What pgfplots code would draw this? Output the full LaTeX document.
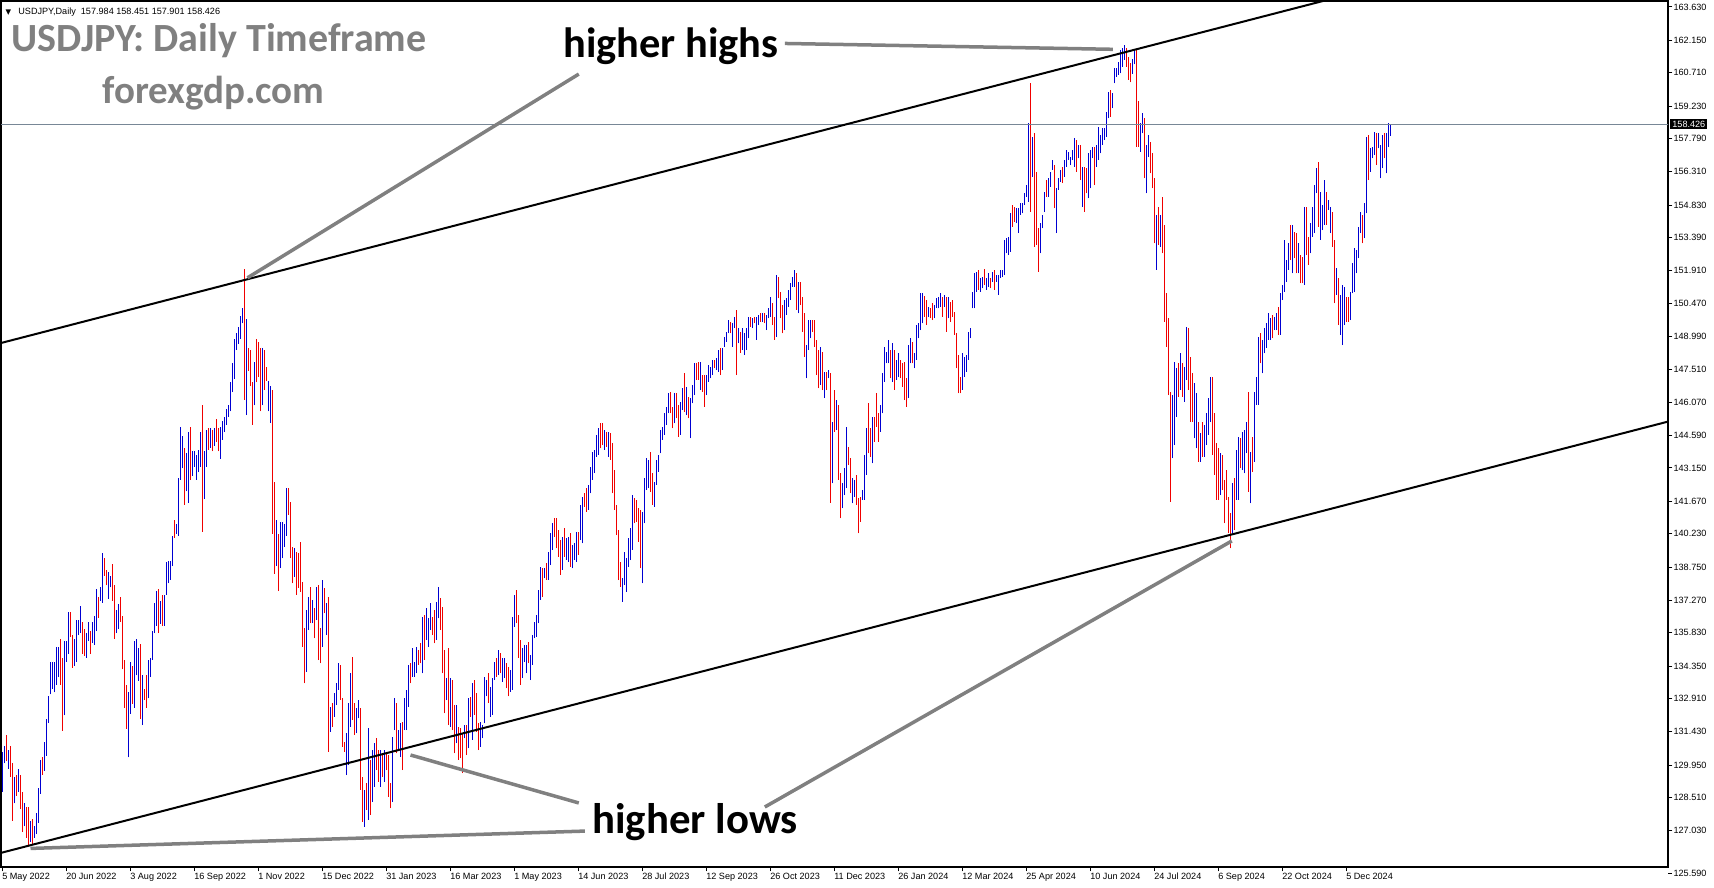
\documentclass[border=0pt]{standalone}
\usepackage{pgfplots}
\pgfplotsset{compat=1.18}
\usepackage{pgfplotstable}
\usepackage{fontspec}
\setmainfont{Liberation Sans}
\newfontfamily\calfont{Carlito}
\newfontfamily\djv{DejaVu Sans}
\definecolor{barup}{RGB}{0,0,210}
\definecolor{bardn}{RGB}{240,0,0}
\definecolor{annot}{RGB}{128,128,128}
\definecolor{pline}{RGB}{120,135,150}

\pgfplotstableread{
i h l d
0 130.54 128.76 1
1 130.80 130.03 1
2 131.31 130.12 0
3 130.63 129.78 1
4 130.80 129.44 0
5 130.03 127.48 0
6 129.44 128.25 1
7 129.52 128.59 0
8 129.78 128.76 1
9 129.52 127.99 0
10 128.76 126.97 0
11 128.25 127.23 1
12 128.08 126.72 0
13 128.08 126.38 0
14 127.48 126.55 1
15 127.57 126.46 0
16 127.23 126.72 1
17 127.82 126.89 1
18 128.93 127.40 1
19 130.20 128.67 1
20 130.29 129.52 0
21 130.97 129.69 1
22 131.99 130.37 1
23 133.01 131.82 1
24 134.54 133.09 1
25 134.54 133.35 1
26 134.54 133.18 1
27 135.22 133.52 1
28 135.22 133.86 1
29 135.56 133.52 0
30 134.71 131.48 0
31 135.47 132.16 1
32 135.47 134.54 1
33 136.75 134.88 1
34 136.75 135.64 0
35 135.73 134.28 0
36 135.56 134.37 1
37 136.41 134.54 1
38 136.41 135.73 1
39 137.00 135.81 1
40 136.32 134.88 0
41 135.98 134.80 0
42 135.81 134.71 1
43 136.32 135.47 1
44 135.90 134.88 0
45 136.32 135.39 1
46 136.58 135.30 1
47 137.77 135.90 1
48 137.43 136.49 0
49 137.85 137.26 1
50 139.38 137.17 1
51 139.13 138.36 0
52 138.62 137.94 0
53 138.53 137.34 1
54 138.36 137.85 1
55 138.87 137.26 0
56 137.94 135.56 0
57 136.83 135.81 1
58 137.09 135.98 1
59 137.43 136.32 0
60 136.58 134.20 0
61 134.62 132.50 0
62 133.52 131.57 0
63 133.18 130.29 1
64 134.54 132.24 1
65 134.37 132.67 0
66 135.47 132.50 1
67 135.56 133.94 1
68 135.14 133.69 1
69 135.31 131.99 0
70 133.94 131.73 1
71 133.35 132.84 0
72 133.94 132.50 0
73 134.62 132.92 1
74 134.71 133.86 1
75 135.90 134.62 1
76 137.17 135.81 1
77 137.68 136.15 1
78 137.77 135.81 0
79 137.26 136.24 1
80 137.51 136.15 0
81 137.51 136.15 1
82 138.96 137.51 1
83 139.04 138.02 1
84 139.04 138.19 1
85 140.15 138.79 1
86 140.83 140.06 0
87 140.66 140.23 1
88 142.70 140.15 1
89 144.99 142.62 1
90 144.57 143.13 1
91 144.06 141.51 0
92 143.80 142.11 1
93 144.74 141.60 1
94 144.99 142.62 0
95 143.89 142.79 1
96 143.89 143.21 1
97 143.72 142.62 1
98 143.97 142.96 1
99 144.74 143.21 1
100 145.93 140.32 0
101 143.89 141.77 1
102 144.82 143.21 1
103 144.91 143.97 0
104 144.91 144.06 1
105 144.82 143.89 0
106 144.91 144.14 1
107 145.33 144.31 0
108 144.91 143.89 0
109 144.99 143.55 1
110 145.25 144.40 1
111 145.42 144.74 1
112 145.76 145.08 1
113 145.93 145.42 1
114 146.95 145.67 1
115 147.80 146.52 1
116 148.90 147.12 1
117 149.16 148.39 1
118 149.42 148.65 1
119 149.92 148.90 1
120 150.27 149.58 1
121 151.97 146.18 0
122 149.75 145.50 1
123 148.48 147.46 0
124 148.39 146.78 0
125 146.95 145.08 0
126 147.88 145.93 1
127 148.90 146.95 0
128 148.73 147.20 0
129 148.48 145.67 0
130 148.48 145.93 1
131 148.39 146.61 0
132 147.63 147.03 0
133 147.03 145.67 1
134 146.78 145.16 1
135 146.61 140.23 0
136 142.53 138.45 0
137 140.83 138.79 1
138 140.23 137.68 0
139 140.74 138.70 1
140 140.74 139.13 1
141 140.66 139.64 1
142 142.27 140.15 1
143 142.27 141.08 0
144 141.65 139.14 0
145 139.66 138.03 0
146 139.58 138.32 1
147 139.43 137.51 0
148 139.36 137.81 0
149 139.88 137.66 0
150 138.10 135.21 0
151 136.03 133.58 0
152 136.84 134.10 1
153 137.43 135.95 1
154 137.88 136.25 0
155 137.29 136.25 1
156 136.92 135.58 0
157 137.88 136.40 1
158 137.95 134.62 0
159 136.03 134.47 0
160 138.18 135.21 1
161 137.81 136.69 0
162 137.14 135.73 1
163 137.43 130.55 0
164 132.55 131.44 1
165 132.70 131.66 0
166 133.14 132.10 1
167 133.59 132.62 1
168 134.47 133.29 1
169 134.40 132.84 0
170 132.92 130.77 0
171 130.99 130.55 0
172 131.36 129.51 1
173 132.70 129.96 1
174 134.03 131.66 1
175 134.77 131.96 0
176 132.70 131.29 0
177 132.47 131.36 1
178 132.84 132.03 1
179 132.47 128.85 0
180 129.44 127.44 0
181 128.85 127.22 1
182 129.14 127.96 0
183 131.59 127.51 1
184 130.18 127.74 0
185 130.62 128.33 1
186 130.92 129.00 1
187 131.14 129.73 0
188 130.62 129.22 0
189 130.62 129.00 1
190 130.47 129.44 0
191 130.62 129.22 1
192 130.55 129.73 0
193 130.40 128.55 0
194 129.14 128.03 0
195 131.22 128.33 1
196 132.92 131.51 1
197 132.70 130.47 0
198 131.51 130.62 1
199 131.81 130.33 1
200 131.88 129.73 0
201 132.92 131.51 1
202 133.29 131.51 1
203 134.40 132.55 1
204 134.47 133.58 0
205 135.14 133.88 1
206 134.55 133.88 1
207 135.21 134.03 1
208 135.07 134.40 0
209 135.36 134.47 0
210 136.55 134.03 1
211 136.62 134.62 0
212 136.92 135.51 1
213 136.47 135.21 1
214 137.14 135.95 1
215 136.55 135.73 0
216 136.84 135.36 0
217 137.21 135.51 1
218 137.88 136.47 1
219 137.36 135.95 0
220 136.99 134.03 0
221 135.07 132.25 0
222 133.81 132.84 1
223 135.14 131.73 0
224 133.81 131.66 1
225 133.73 131.51 0
226 132.62 130.47 0
227 132.62 130.92 1
228 131.66 130.18 0
229 131.59 130.25 0
230 131.36 129.59 0
231 131.73 131.14 1
232 131.73 130.40 0
233 132.92 130.70 1
234 132.99 132.10 0
235 133.58 131.07 1
236 133.73 132.18 0
237 133.14 131.44 0
238 131.81 130.62 0
239 131.88 130.77 1
240 131.73 131.14 1
241 133.88 131.81 1
242 133.73 133.00 1
243 134.03 132.70 0
244 133.44 132.10 1
245 133.81 132.18 1
246 134.55 133.73 1
247 134.70 133.88 0
248 135.07 133.95 1
249 134.92 134.03 0
250 134.70 133.66 1
251 134.70 133.81 1
252 134.47 133.36 0
253 134.33 133.00 0
254 134.18 133.22 1
255 136.55 133.29 1
256 137.51 136.10 1
257 137.73 136.25 0
258 136.62 134.70 0
259 135.51 133.51 0
260 135.14 133.81 1
261 135.29 134.55 1
262 135.29 134.03 1
263 135.44 134.47 0
264 134.84 133.73 1
265 135.73 134.40 1
266 136.32 135.58 1
267 136.62 135.66 1
268 137.73 136.25 1
269 138.77 137.29 1
270 138.70 137.43 0
271 138.70 138.25 1
272 138.92 138.18 0
273 139.43 138.18 1
274 140.25 138.84 1
275 140.69 139.51 1
276 140.91 140.10 0
277 140.91 139.58 0
278 140.40 139.21 0
279 139.95 138.40 0
280 140.10 138.62 1
281 140.47 139.21 0
282 140.03 139.06 1
283 140.10 138.99 1
284 140.25 138.77 0
285 139.73 138.69 1
286 139.80 139.06 1
287 140.32 138.99 1
288 140.32 139.29 0
289 141.51 139.95 1
290 141.88 139.80 1
291 142.02 141.43 0
292 142.25 141.21 0
293 142.40 141.29 1
294 143.21 142.02 1
295 143.87 142.62 1
296 143.95 142.92 1
297 144.62 143.65 1
298 144.91 143.73 1
299 145.13 144.02 0
300 145.13 144.17 0
301 144.84 143.95 1
302 144.76 144.10 0
303 144.76 143.65 1
304 144.69 143.51 0
305 144.25 142.02 0
306 143.06 141.29 0
307 141.51 140.17 0
308 140.40 138.17 0
309 138.99 137.88 0
310 138.25 137.21 1
311 139.43 137.95 1
312 139.14 137.66 1
313 140.03 138.77 1
314 140.47 139.06 1
315 141.95 139.51 1
316 141.80 140.69 0
317 141.73 140.77 0
318 141.36 139.88 0
319 141.29 138.69 0
320 141.21 138.03 1
321 142.69 140.69 1
322 143.58 142.17 1
323 143.50 142.25 1
324 143.87 142.10 0
325 142.91 141.51 0
326 142.54 141.43 1
327 143.50 142.40 1
328 143.73 142.99 1
329 144.84 143.80 1
330 144.99 144.40 1
331 145.58 144.62 1
332 145.88 145.06 1
333 146.47 145.58 1
334 146.54 145.58 0
335 145.88 144.91 0
336 146.47 145.13 1
337 146.47 145.36 0
338 145.95 144.54 0
339 146.10 144.62 1
340 146.69 145.73 1
341 147.36 145.65 0
342 146.76 145.50 1
343 146.32 145.36 0
344 146.25 144.47 1
345 146.84 146.02 1
346 147.80 146.39 1
347 147.80 147.06 0
348 147.87 147.06 0
349 147.87 146.61 1
350 147.28 146.54 0
351 147.28 145.88 0
352 147.28 146.39 1
353 147.73 146.99 1
354 147.65 147.13 1
355 147.95 147.28 1
356 147.95 147.58 0
357 148.02 147.50 1
358 148.39 147.43 1
359 148.47 147.28 0
360 148.47 147.50 1
361 148.99 148.54 1
362 149.21 148.76 1
363 149.73 149.13 1
364 149.65 149.13 0
365 149.58 148.54 1
366 149.87 149.36 1
367 150.17 147.28 0
368 149.36 148.69 1
369 149.21 148.25 0
370 149.36 148.39 1
371 149.13 148.17 1
372 149.36 148.39 1
373 149.87 148.91 1
374 149.87 149.43 0
375 149.80 149.36 1
376 149.87 149.58 0
377 149.87 148.84 1
378 149.95 149.50 1
379 150.02 149.65 0
380 150.02 149.65 1
381 150.02 149.58 0
382 149.95 149.28 1
383 150.24 149.80 1
384 150.76 149.87 1
385 150.47 149.50 0
386 149.87 148.84 0
387 151.72 148.99 1
388 151.65 150.69 0
389 150.98 149.80 0
390 150.39 149.13 0
391 150.61 149.28 1
392 150.69 149.95 1
393 151.06 150.32 1
394 151.35 150.61 1
395 151.65 151.21 1
396 151.95 151.21 1
397 151.80 150.17 0
398 151.43 150.02 1
399 151.43 150.39 0
400 150.76 149.21 0
401 150.02 148.10 0
402 148.61 147.13 1
403 149.73 148.39 1
404 149.73 148.91 1
405 149.73 149.21 0
406 149.73 148.54 0
407 148.84 147.28 0
408 148.39 146.69 0
409 148.54 146.84 1
410 148.32 146.61 0
411 147.43 146.25 1
412 147.43 146.61 0
413 147.50 147.13 1
414 147.36 141.60 0
415 145.21 142.47 1
416 146.61 144.76 0
417 146.17 144.84 1
418 145.95 142.62 0
419 142.91 140.91 0
420 142.47 141.36 1
421 143.13 141.95 1
422 144.99 142.25 1
423 144.10 143.28 0
424 143.58 142.02 0
425 142.69 141.58 1
426 142.62 141.88 1
427 142.84 141.51 0
428 141.80 140.25 0
429 141.88 140.77 0
430 142.17 141.73 1
431 143.73 141.73 1
432 144.91 142.84 1
433 146.02 143.80 0
434 144.91 143.65 0
435 145.43 143.36 1
436 145.43 144.32 0
437 146.47 144.99 0
438 145.58 144.32 0
439 145.95 144.76 1
440 147.36 145.58 1
441 148.54 146.99 1
442 148.32 147.80 1
443 148.84 147.80 1
444 148.39 147.13 0
445 148.69 146.99 1
446 148.39 146.62 0
447 147.95 147.06 1
448 148.24 147.21 1
449 147.95 147.13 0
450 147.80 146.76 0
451 147.87 146.17 0
452 147.13 145.87 0
453 148.61 146.25 1
454 148.91 147.80 1
455 148.76 147.80 0
456 148.24 147.58 1
457 149.50 147.95 1
458 149.58 148.91 1
459 150.91 149.28 1
460 150.91 149.58 1
461 150.81 149.87 0
462 150.61 149.50 0
463 150.32 149.87 1
464 150.24 149.80 0
465 150.46 149.72 0
466 150.39 149.80 1
467 150.69 150.24 1
468 150.76 150.24 1
469 150.91 150.32 1
470 150.76 149.87 0
471 150.84 150.32 1
472 150.76 149.21 0
473 150.76 149.80 1
474 150.54 149.65 0
475 150.61 149.87 0
476 150.09 149.06 0
477 149.13 147.58 0
478 148.17 146.47 0
479 147.21 146.47 0
480 148.24 146.62 1
481 148.09 147.21 1
482 148.17 147.43 1
483 149.21 147.95 1
484 149.35 148.91 1
485 150.98 150.24 1
486 151.80 150.24 1
487 151.87 150.98 1
488 151.95 151.06 0
489 151.58 150.98 1
490 151.65 151.13 1
491 151.98 151.28 0
492 151.58 151.06 1
493 151.80 151.21 1
494 151.58 151.13 0
495 151.87 151.43 1
496 151.95 151.06 0
497 151.72 151.43 1
498 151.72 150.84 1
499 151.95 151.58 1
500 151.95 151.65 1
501 153.28 151.72 1
502 153.35 152.69 1
503 153.43 152.61 1
504 154.46 152.76 1
505 154.83 153.87 0
506 154.76 154.09 0
507 154.68 154.02 1
508 154.68 153.58 1
509 154.91 154.39 1
510 154.91 154.46 1
511 155.35 154.83 1
512 155.72 155.20 1
513 158.46 154.98 1
514 160.24 154.54 0
515 157.87 156.09 1
516 158.02 152.98 0
517 156.31 153.06 0
518 153.80 151.87 0
519 154.02 152.69 1
520 154.39 153.80 1
521 155.43 154.54 1
522 155.94 155.20 0
523 156.02 155.20 1
524 156.31 155.65 1
525 156.83 156.39 1
526 156.61 154.68 0
527 155.57 153.58 1
528 156.02 155.50 1
529 156.39 155.87 1
530 156.54 155.80 0
531 156.83 156.09 1
532 157.28 156.54 1
533 157.20 156.83 1
534 156.98 156.61 1
535 157.28 156.83 1
536 157.79 156.54 1
537 157.72 156.31 0
538 157.50 156.91 1
539 157.50 155.94 0
540 156.54 154.76 1
541 156.54 154.54 0
542 156.46 155.35 0
543 157.13 155.13 1
544 157.28 155.57 1
545 157.42 156.91 1
546 157.42 155.72 0
547 157.50 156.54 1
548 158.31 156.83 1
549 157.94 157.13 1
550 158.24 157.50 1
551 158.24 157.72 1
552 158.98 157.87 1
553 159.87 158.68 1
554 159.94 158.76 0
555 159.79 159.13 1
556 160.91 160.24 1
557 160.91 160.53 1
558 161.20 160.61 1
559 161.72 160.68 1
560 161.79 160.98 1
561 161.94 161.28 1
562 161.79 160.98 0
563 161.42 160.39 0
564 161.16 160.28 0
565 161.31 160.67 1
566 161.76 161.08 1
567 161.76 157.43 0
568 159.45 157.43 0
569 158.46 157.20 1
570 158.91 158.02 1
571 158.69 156.02 0
572 157.50 155.35 1
573 157.94 156.98 1
574 157.65 156.24 0
575 157.13 155.57 0
576 156.02 153.13 0
577 154.39 151.95 1
578 154.76 153.06 0
579 154.39 152.98 1
580 155.20 152.69 0
581 153.95 149.65 0
582 150.91 148.54 0
583 149.80 146.39 0
584 146.54 141.65 0
585 146.39 143.58 1
586 147.87 144.17 1
587 147.58 145.43 1
588 147.80 146.32 0
589 148.24 146.61 1
590 147.80 146.32 0
591 147.65 146.09 1
592 149.43 147.06 1
593 149.35 146.61 0
594 148.09 145.21 0
595 147.35 145.21 0
596 146.91 144.47 1
597 146.47 144.02 1
598 145.21 143.43 0
599 144.69 143.43 1
600 145.21 143.65 0
601 145.06 143.65 1
602 145.58 144.17 1
603 146.25 144.62 1
604 147.21 145.21 1
605 147.21 143.73 0
606 145.58 142.84 0
607 144.25 141.73 0
608 144.02 141.73 0
609 143.80 141.95 1
610 143.73 142.17 0
611 142.62 140.69 0
612 143.06 141.73 0
613 141.88 140.25 0
614 141.14 139.58 0
615 142.47 140.25 1
616 142.69 140.40 0
617 143.95 141.73 1
618 144.54 141.73 1
619 144.47 143.13 0
620 144.76 143.06 1
621 144.84 142.91 1
622 145.21 143.80 1
623 146.54 142.10 0
624 143.87 141.58 1
625 144.54 142.99 0
626 146.54 143.43 1
627 147.21 145.95 1
628 148.99 145.95 1
629 149.13 147.80 0
630 148.84 147.35 1
631 149.35 148.24 1
632 149.58 148.47 1
633 150.02 148.84 1
634 149.80 148.84 1
635 149.95 148.91 0
636 149.87 149.28 1
637 150.02 149.28 1
638 150.32 149.06 0
639 150.91 149.06 1
640 151.28 150.61 1
641 153.28 150.98 1
642 152.39 151.43 1
643 153.13 151.95 1
644 153.95 152.39 0
645 153.95 151.80 1
646 153.65 152.46 0
647 153.58 151.80 0
648 153.13 151.80 1
649 152.61 151.35 0
650 152.54 151.35 0
651 154.76 151.28 1
652 154.76 152.61 0
653 153.43 152.17 0
654 154.02 152.69 1
655 154.76 153.43 1
656 155.72 153.58 1
657 156.46 155.35 1
658 156.76 153.87 0
659 155.43 153.28 1
660 154.84 153.72 1
661 155.94 153.95 1
662 155.43 153.95 0
663 155.06 154.61 1
664 154.76 153.58 1
665 154.54 152.98 0
666 153.28 150.46 0
667 152.02 150.84 1
668 151.58 149.50 0
669 150.84 149.06 1
670 151.28 148.61 1
671 151.21 149.50 1
672 150.76 149.65 0
673 150.76 149.65 0
674 150.98 149.72 1
675 152.24 150.91 1
676 152.91 150.98 1
677 152.83 151.80 1
678 153.87 152.46 1
679 154.54 153.58 1
680 154.39 153.13 0
681 154.91 153.35 1
682 157.87 154.46 1
683 157.94 155.94 0
684 157.35 156.31 1
685 157.43 156.91 1
686 158.09 157.06 1
687 158.02 156.61 0
688 158.02 157.35 1
689 157.50 156.02 1
690 157.94 156.46 1
691 158.02 156.91 0
692 158.02 156.24 1
693 158.46 157.43 1
694 158.45 157.90 1
}\bars

\begin{document}
\begin{tikzpicture}
\path[use as bounding box] (0,0) rectangle (857pt,444pt);
\begin{axis}[
  at={(0.5pt,10.5pt)}, anchor=south west,
  scale only axis, width=833.5pt, height=433pt,
  xmin=-0.75, xmax=832.75, ymin=125.425, ymax=163.897,
  axis line style={line width=0.6pt},
  xtick pos=bottom, ytick pos=right, yticklabel pos=right,
  tick align=outside, major tick length=2.2pt,
  tick style={black, line width=0.5pt},
  every tick label/.append style={font=\fontsize{4.55pt}{5pt}\selectfont},
  xtick={0,32,...,672},
  xticklabels={5 May 2022,20 Jun 2022,3 Aug 2022,16 Sep 2022,1 Nov 2022,15 Dec 2022,31 Jan 2023,16 Mar 2023,1 May 2023,14 Jun 2023,28 Jul 2023,12 Sep 2023,26 Oct 2023,11 Dec 2023,26 Jan 2024,12 Mar 2024,25 Apr 2024,10 Jun 2024,24 Jul 2024,6 Sep 2024,22 Oct 2024,5 Dec 2024},
  xticklabel style={anchor=north west, inner sep=0pt, xshift=-0.3pt, yshift=-0.8pt},
  ytick={163.63,162.15,160.71,159.23,157.79,156.31,154.83,153.39,151.91,150.47,148.99,147.51,146.07,144.59,143.15,141.67,140.23,138.75,137.27,135.83,134.35,132.91,131.43,129.95,128.51,127.03},
  yticklabels={163.630,162.150,160.710,159.230,157.790,156.310,154.830,153.390,151.910,150.470,148.990,147.510,146.070,144.590,143.150,141.670,140.230,138.750,137.270,135.830,134.350,132.910,131.430,129.950,128.510,127.030},
  yticklabel style={anchor=west, inner sep=0pt, xshift=0.4pt},
]
\addplot[barup, line width=0.65pt, quiver={u=0, v=\thisrow{h}-\thisrow{l}},
  restrict expr to domain={\thisrow{d}}{0.5:1.5}] table[x=i, y=l] {\bars};
\addplot[bardn, line width=0.65pt, quiver={u=0, v=\thisrow{h}-\thisrow{l}},
  restrict expr to domain={\thisrow{d}}{-0.5:0.5}] table[x=i, y=l] {\bars};
% current price line
\addplot[pline, line width=0.5pt] coordinates {(-5,158.426) (840,158.426)};
% channel lines
\addplot[black, line width=1pt] coordinates {(-5,148.605) (840,168.028)};
\addplot[black, line width=1pt] coordinates {(-5,125.955) (840,145.378)};
% annotation lines
\addplot[annot, line width=1.75pt] coordinates {(122.5,151.6) (288.15,160.65)};
\addplot[annot, line width=1.75pt] coordinates {(391.15,162.01) (555.15,161.75)};
\addplot[annot, line width=1.75pt] coordinates {(204,130.40) (288.15,128.27)};
\addplot[annot, line width=1.75pt] coordinates {(14,126.25) (291.15,127.02)};
\addplot[annot, line width=1.75pt] coordinates {(381.15,128.09) (614.65,139.91)};
\end{axis}
% bottom price label
\draw[black, line width=0.5pt] (834pt,7.15pt) -- (836.2pt,7.15pt);
\node[anchor=west, inner sep=0pt, font=\fontsize{4.55pt}{5pt}\selectfont] at (836.6pt,7.15pt) {125.590};
% current price box
\node[anchor=west, fill=black, text=white, inner xsep=1pt, inner ysep=0.9pt, font=\fontsize{4.55pt}{5pt}\selectfont] at (835pt,381.9pt) {158.426};
% header
\node[anchor=base west, inner sep=0pt, font=\djv\fontsize{3.6pt}{4pt}\selectfont] at (2.6pt,436.6pt) {▼};
\node[anchor=base west, inner sep=0pt, font=\fontsize{4.55pt}{5pt}\selectfont] at (9pt,436.6pt) {USDJPY,Daily\ \ 157.984 158.451 157.901 158.426};
% titles
\node[anchor=base west, inner sep=0pt, text=annot, font=\calfont\bfseries\fontsize{20pt}{24pt}\selectfont] at (5.5pt,418pt) {USDJPY: Daily Timeframe};
\node[anchor=base west, inner sep=0pt, text=annot, font=\calfont\bfseries\fontsize{19.5pt}{24pt}\selectfont] at (51pt,392pt) {forexgdp.com};
\node[anchor=base west, inner sep=0pt, text=black, font=\calfont\bfseries\fontsize{21.2pt}{25pt}\selectfont] at (281.5pt,415pt) {higher highs};
\node[anchor=base west, inner sep=0pt, text=black, font=\calfont\bfseries\fontsize{21.4pt}{25pt}\selectfont] at (296pt,27pt) {higher lows};
\end{tikzpicture}
\end{document}
